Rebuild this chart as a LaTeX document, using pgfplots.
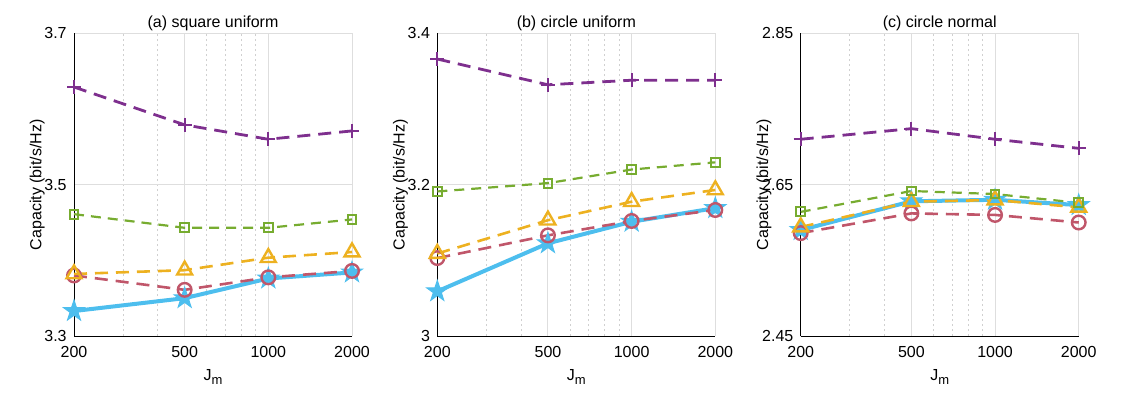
\documentclass[border=0pt]{standalone}
\usepackage{pgfplots}
\pgfplotsset{compat=1.18}
\usepackage{fontspec}
\setmainfont{Liberation Sans}
\definecolor{cblue}{HTML}{4DBEEE}
\definecolor{cred}{HTML}{C0566A}
\definecolor{cyel}{HTML}{EDB120}
\definecolor{cgreen}{HTML}{77AC30}
\definecolor{cpurp}{HTML}{7E2F8E}
\definecolor{cgrid}{HTML}{DEDEDE}
\pgfdeclareplotmark{fstar}{%
  \pgfpathmoveto{\pgfpointpolar{90}{\pgfplotmarksize}}%
  \pgfpathlineto{\pgfpointpolar{126}{0.382\pgfplotmarksize}}%
  \pgfpathlineto{\pgfpointpolar{162}{\pgfplotmarksize}}%
  \pgfpathlineto{\pgfpointpolar{198}{0.382\pgfplotmarksize}}%
  \pgfpathlineto{\pgfpointpolar{234}{\pgfplotmarksize}}%
  \pgfpathlineto{\pgfpointpolar{270}{0.382\pgfplotmarksize}}%
  \pgfpathlineto{\pgfpointpolar{306}{\pgfplotmarksize}}%
  \pgfpathlineto{\pgfpointpolar{342}{0.382\pgfplotmarksize}}%
  \pgfpathlineto{\pgfpointpolar{18}{\pgfplotmarksize}}%
  \pgfpathlineto{\pgfpointpolar{54}{0.382\pgfplotmarksize}}%
  \pgfpathclose
  \pgfusepathqfillstroke}
\pgfplotsset{
  every axis title shift=0pt,
  panel/.style={
    scale only axis, width=139pt, height=151.35pt,
    anchor=south west,
    xmin=200, xmax=2000,
    xtick={200,500,1000,2000}, xticklabels={200,500,1000,2000},
    minor xtick={300,400,600,700,800,900},
    axis x line*=bottom, axis y line*=left,
    axis line style={black, line width=0.5pt, -},
    major tick length=0pt, minor tick length=0pt,
    grid=both,
    major grid style={cgrid, line width=0.5pt},
    minor grid style={cgrid!85!gray, line width=0.4pt, dash pattern=on 1pt off 1.5pt},
    font=\fontsize{8pt}{9.6pt}\selectfont,
    tick label style={font=\fontsize{8pt}{9.6pt}\selectfont},
    xticklabel style={anchor=base, inner sep=0pt, yshift=-10.75pt},
    yticklabel style={anchor=east, inner sep=0pt, xshift=-3.5pt},
    title style={at={([yshift=3pt]axis description cs:0.5,1)}, anchor=base, inner sep=0pt},
    ylabel style={at={([xshift=-16.3pt]axis description cs:0,0.5)}, anchor=base, inner sep=0pt},
    xlabel style={at={([yshift=-22pt]axis description cs:0.5,0)}, anchor=base, inner sep=0pt},
    xlabel={J\raisebox{-0.55ex}{\fontsize{6.5pt}{7pt}\selectfont m}},
    ylabel={Capacity (bit/s/Hz)},
    clip=false,
  },
  sblue/.style={cblue, line width=2pt, solid, mark=fstar, mark size=5.5pt, mark options={solid, fill=cblue, line width=0.5pt}},
  sred/.style={cred, line width=1.3pt, dash pattern=on 6.5pt off 4pt, mark=o, mark size=3.4pt, mark options={solid, line width=1.2pt}},
  syel/.style={cyel, line width=1.3pt, dash pattern=on 6.5pt off 4pt, mark=triangle, mark size=4.3pt, mark options={solid, line width=1.2pt}},
  sgreen/.style={cgreen, line width=1.1pt, dash pattern=on 5pt off 3.5pt, mark=square, mark size=2.2pt, mark options={solid, line width=1pt}},
  spurp/.style={cpurp, line width=1.4pt, dash pattern=on 6.5pt off 4pt, mark=+, mark size=3.5pt, mark options={solid, line width=1.1pt}},
}
\begin{document}
\begin{tikzpicture}[x=1pt,y=1pt]
\useasboundingbox (0,0) rectangle (566.5,198.5);
% (a)
\begin{semilogxaxis}[panel, at={(37pt,30.5pt)}, ymin=3.3, ymax=3.7,
  ytick={3.3,3.5,3.7}, yticklabels={3.3,3.5,3.7}, title={(a) square uniform}]
\addplot[sblue] coordinates {(200,3.333) (500,3.350) (1000,3.376) (2000,3.384)};
\addplot[sred] coordinates {(200,3.380) (500,3.361) (1000,3.3775) (2000,3.386)};
\addplot[syel] coordinates {(200,3.382) (500,3.387) (1000,3.4035) (2000,3.411)};
\addplot[sgreen] coordinates {(200,3.461) (500,3.443) (1000,3.443) (2000,3.454)};
\addplot[spurp] coordinates {(200,3.629) (500,3.579) (1000,3.560) (2000,3.571)};
\end{semilogxaxis}
% (b)
\begin{semilogxaxis}[panel, at={(218.65pt,30.5pt)}, ymin=3.0, ymax=3.4,
  ytick={3.0,3.2,3.4}, yticklabels={3,3.2,3.4}, title={(b) circle uniform}]
\addplot[sblue] coordinates {(200,3.059) (500,3.1225) (1000,3.151) (2000,3.169)};
\addplot[sred] coordinates {(200,3.103) (500,3.133) (1000,3.152) (2000,3.1665)};
\addplot[syel] coordinates {(200,3.109) (500,3.153) (1000,3.1775) (2000,3.193)};
\addplot[sgreen] coordinates {(200,3.191) (500,3.202) (1000,3.220) (2000,3.2295)};
\addplot[spurp] coordinates {(200,3.366) (500,3.332) (1000,3.338) (2000,3.338)};
\end{semilogxaxis}
% (c)
\begin{semilogxaxis}[panel, at={(400.35pt,30.5pt)}, ymin=2.45, ymax=2.85,
  ytick={2.45,2.65,2.85}, yticklabels={2.45,2.65,2.85}, title={(c) circle normal}]
\addplot[sblue] coordinates {(200,2.590) (500,2.628) (1000,2.630) (2000,2.623)};
\addplot[sred] coordinates {(200,2.586) (500,2.612) (1000,2.610) (2000,2.600)};
\addplot[syel] coordinates {(200,2.594) (500,2.6275) (1000,2.6297) (2000,2.620)};
\addplot[sgreen] coordinates {(200,2.614) (500,2.6416) (1000,2.6376) (2000,2.626)};
\addplot[spurp] coordinates {(200,2.710) (500,2.724) (1000,2.710) (2000,2.698)};
\end{semilogxaxis}
\end{tikzpicture}
\end{document}
